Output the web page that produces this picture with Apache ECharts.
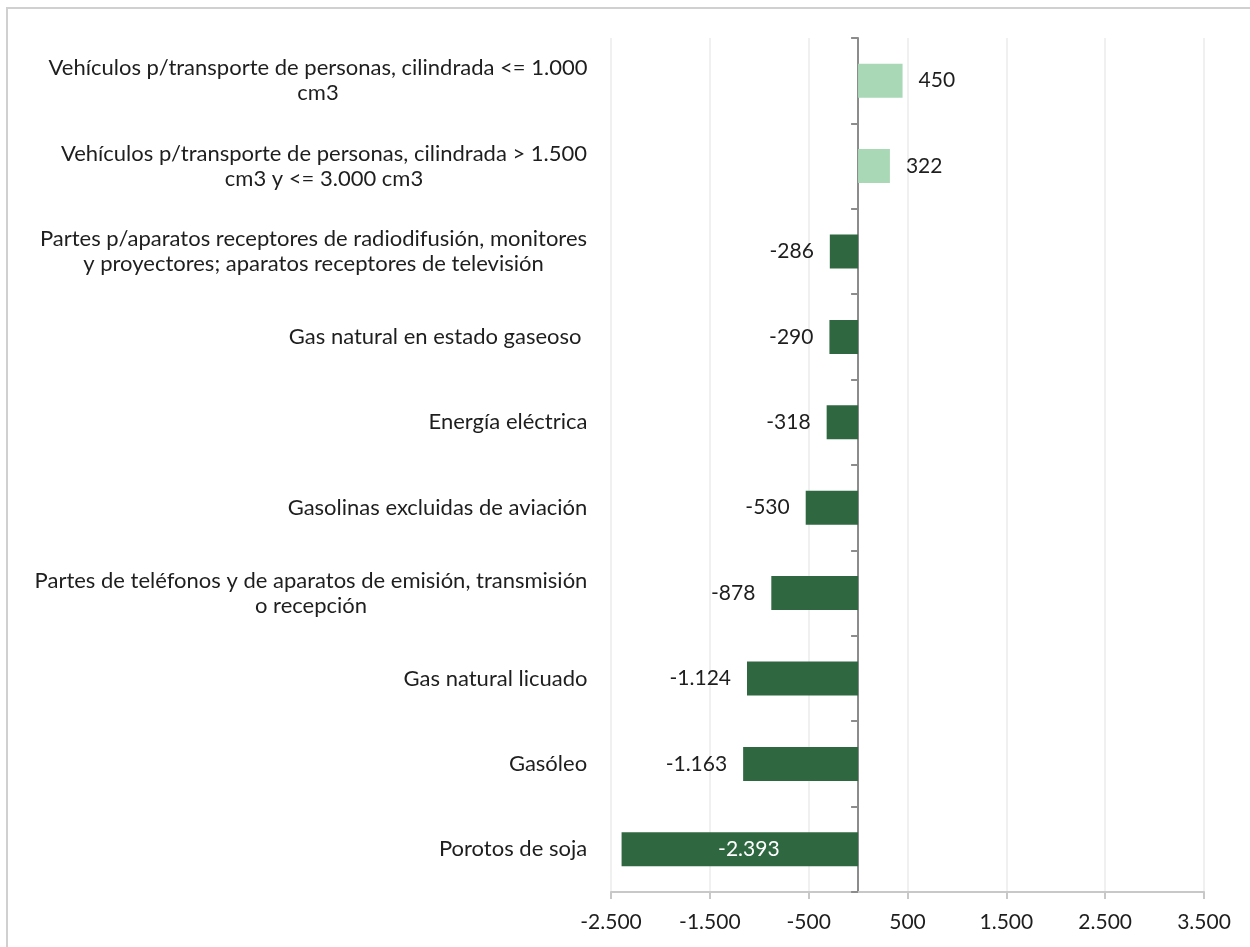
<!DOCTYPE html>
<html>
<head>
<meta charset="utf-8">
<script src="https://cdn.jsdelivr.net/npm/echarts@6/dist/echarts.min.js"></script>
<style>
html,body{margin:0;padding:0;background:#fff;}
#chart{width:1250px;height:947px;}
</style>
</head>
<body>
<div id="chart"></div>
<script>
// Categories, top to bottom
const categories = [
  "Vehículos p/transporte de personas, cilindrada <= 1.000\ncm3",
  "Vehículos p/transporte de personas, cilindrada > 1.500\ncm3 y <= 3.000 cm3",
  "Partes p/aparatos receptores de radiodifusión, monitores\ny proyectores; aparatos receptores de televisión",
  "Gas natural en estado gaseoso ",
  "Energía eléctrica",
  "Gasolinas excluidas de aviación",
  "Partes de teléfonos y de aparatos de emisión, transmisión\no recepción",
  "Gas natural licuado",
  "Gasóleo",
  "Porotos de soja"
];
const values = [450, 322, -286, -290, -318, -530, -878, -1124, -1163, -2393];
const xTicks = [-2500, -1500, -500, 500, 1500, 2500, 3500];

const FONT = 'Lato';
const FS_CAT = 22;
const FS_NUM = 21;
const LH = 25;
const TEXT = '#1e1e1e';
const DARK = '#2f6840';
const LIGHT = '#a9d8b7';

function fmt(v) {
  const s = Math.abs(Math.round(v)).toString().replace(/\B(?=(\d{3})+(?!\d))/g, '.');
  return (v < 0 ? '-' : '') + s;
}

// measure label lines for centred multi-line labels
const ctx = document.createElement('canvas').getContext('2d');
ctx.font = FS_CAT + 'px ' + FONT;
const rich = {};
categories.forEach((c, i) => {
  const w = Math.max.apply(null, c.split('\n').map(l => ctx.measureText(l).width));
  rich['c' + i] = {width: Math.ceil(w) + 1, align: 'center', fontFamily: FONT, fontSize: FS_CAT, lineHeight: LH, color: TEXT};
});

const seriesData = values.map((v, i) => {
  const label = {position: v >= 0 ? 'right' : 'left', color: TEXT};
  if (i === values.length - 1) { label.position = 'inside'; label.color = '#ffffff'; label.offset = [9, 0]; }
  return {
    value: v,
    itemStyle: {color: v >= 0 ? LIGHT : DARK},
    label: label
  };
});

const chart = echarts.init(document.getElementById('chart'));
chart.setOption({
  animation: false,
  backgroundColor: '#ffffff',
  graphic: [{
    type: 'rect',
    shape: {x: 7, y: 8, width: 1270, height: 970},
    style: {fill: 'none', stroke: '#d0d0d0', lineWidth: 2},
    silent: true
  }],
  grid: {left: 611, right: 46, top: 38, bottom: 55, containLabel: false},
  xAxis: {
    type: 'value',
    min: -2500, max: 3500, interval: 1000,
    axisLine: {show: true, onZero: false, lineStyle: {color: '#c8c8c8', width: 2}},
    axisTick: {show: true, length: 7, lineStyle: {color: '#c8c8c8', width: 2}},
    splitLine: {show: true, lineStyle: {color: '#ebebeb', width: 1.5}},
    axisLabel: {
      fontFamily: FONT, fontSize: FS_NUM, color: TEXT, margin: 20,
      customValues: xTicks,
      formatter: v => fmt(v)
    }
  },
  yAxis: [{
    type: 'category',
    data: categories,
    inverse: true,
    position: 'left',
    axisLine: {show: false, onZero: false},
    axisTick: {show: false},
    splitLine: {show: false},
    axisLabel: {
      margin: 23,
      fontFamily: FONT, fontSize: FS_CAT, lineHeight: LH, color: TEXT,
      formatter: function (val) {
        const i = categories.indexOf(val);
        return val.split('\n').map(l => '{c' + i + '|' + l + '}').join('\n');
      },
      rich: rich
    }
  }, {
    type: 'category',
    data: categories,
    inverse: true,
    position: 'left',
    axisLine: {show: true, onZero: true, lineStyle: {color: '#8c8c8c', width: 2}},
    axisTick: {show: true, length: 7, lineStyle: {color: '#8c8c8c', width: 2}},
    axisLabel: {show: false},
    splitLine: {show: false}
  }],
  series: [{
    type: 'bar',
    yAxisIndex: 0,
    barWidth: 34,
    data: seriesData,
    label: {
      show: true,
      distance: 16,
      fontFamily: FONT, fontSize: FS_NUM,
      formatter: p => fmt(p.value)
    },
    z: 1
  }]
});
</script>
</body>
</html>
